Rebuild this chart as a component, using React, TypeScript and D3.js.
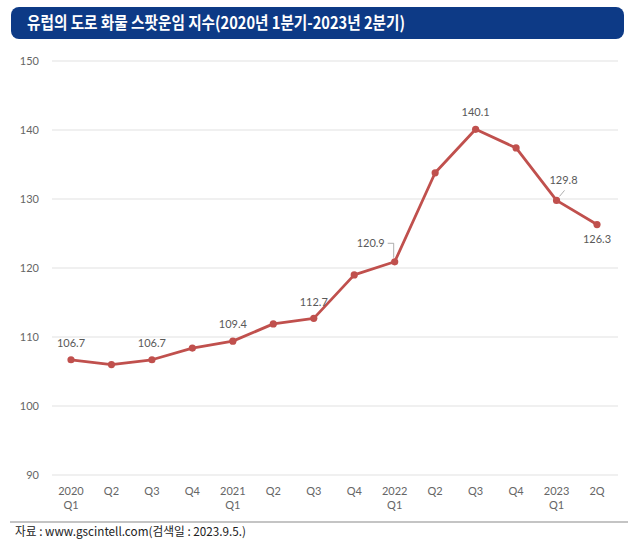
import * as d3 from "d3"

const quarters = [
  "2020Q1", "2020Q2", "2020Q3", "2020Q4",
  "2021Q1", "2021Q2", "2021Q3", "2021Q4",
  "2022Q1", "2022Q2", "2022Q3", "2022Q4",
  "2023Q1", "2023Q2",
]
const tickTop = ["2020", "Q2", "Q3", "Q4", "2021", "Q2", "Q3", "Q4", "2022", "Q2", "Q3", "Q4", "2023", "2Q"]
const tickBottom = ["Q1", "", "", "", "Q1", "", "", "", "Q1", "", "", "", "Q1", ""]
const index = [106.7, 106.0, 106.7, 108.4, 109.4, 111.9, 112.7, 119.0, 120.9, 133.8, 140.1, 137.4, 129.8, 126.3]
const labelled = [0, 2, 4, 6, 8, 10, 12, 13]
const yTicks = [90, 100, 110, 120, 130, 140, 150]

const title = "유럽의 도로 화물 스팟운임 지수(2020년 1분기-2023년 2분기)"
const source = "자료 : www.gscintell.com(검색일 : 2023.9.5.)"

const W = 641
const H = 556
const numFont = "Lato, 'Noto Sans', sans-serif"
const krFont = "'Noto Sans CJK KR', sans-serif"

// label offsets relative to the point (dx, dy of baseline)
const labelOffset: Record<number, [number, number]> = {
  0: [0, -13],
  2: [0, -13],
  4: [0, -13],
  6: [0, -12],
  8: [-24, -15],
  10: [0, -13],
  12: [7, -16],
  13: [0, 18],
}

export default function App() {
  const x = d3.scalePoint(quarters, [71, 597])
  const y = d3.scaleLinear().domain([90, 150]).range([475, 61])

  const line = d3
    .line<number>()
    .x((_, i) => x(quarters[i])!)
    .y((d) => y(d))

  return (
    <svg width={W} height={H} style={{ position: "absolute", left: 0, top: 0 }}>
      <rect width={W} height={H} fill="#fff" />
      <rect x={11} y={7} width={613} height={32} rx={8} fill="#0d3a86" />
      <text
        x={27}
        y={29}
        fill="#fff"
        fontFamily={krFont}
        fontWeight={700}
        fontSize={17}
        textLength={378}
        lengthAdjust="spacingAndGlyphs"
      >
        {title}
      </text>

      {yTicks.map((t) => (
        <g key={t}>
          <line x1={52} x2={618} y1={y(t)} y2={y(t)} stroke="#e2e2e2" strokeWidth={1.2} />
          <text
            x={39}
            y={y(t)}
            dy="0.35em"
            textAnchor="end"
            fontFamily={numFont}
            fontSize={11}
            fill="#666"
          >
            {t}
          </text>
        </g>
      ))}

      {quarters.map((q, i) => (
        <g key={q} fontFamily={numFont} fontSize={11} fill="#666" textAnchor="middle">
          <text x={x(q)} y={494.5}>{tickTop[i]}</text>
          {tickBottom[i] && <text x={x(q)} y={509}>{tickBottom[i]}</text>}
        </g>
      ))}

      <path d={line(index) ?? undefined} fill="none" stroke="#c0504d" strokeWidth={2.8} strokeLinejoin="round" />
      {index.map((v, i) => (
        <circle key={i} cx={x(quarters[i])} cy={y(v)} r={3.6} fill="#c0504d" />
      ))}

      {/* leader lines */}
      <polyline
        points={`${x(quarters[8])! - 7},${y(index[8]) - 18.5} ${x(quarters[8])! - 1},${y(index[8]) - 18.5} ${x(quarters[8])! - 1},${y(index[8]) - 4}`}
        fill="none"
        stroke="#999"
        strokeWidth={0.8}
      />
      <line
        x1={x(quarters[12])! + 3}
        y1={y(index[12]) - 4}
        x2={x(quarters[12])! + 8}
        y2={y(index[12]) - 10}
        stroke="#999"
        strokeWidth={0.8}
      />

      {labelled.map((i) => {
        const [dx, dy] = labelOffset[i]
        return (
          <text
            key={i}
            x={x(quarters[i])! + dx}
            y={y(index[i]) + dy}
            textAnchor="middle"
            fontFamily={numFont}
            fontSize={11}
            fill="#595959"
          >
            {index[i].toFixed(1)}
          </text>
        )
      })}

      <line x1={10} x2={628} y1={522} y2={522} stroke="#c4c4c4" strokeWidth={2} />
      <text
        x={15}
        y={536}
        fontFamily={krFont}
        fontSize={12}
        fill="#222"
        textLength={231}
        lengthAdjust="spacingAndGlyphs"
      >
        {source}
      </text>
    </svg>
  )
}
